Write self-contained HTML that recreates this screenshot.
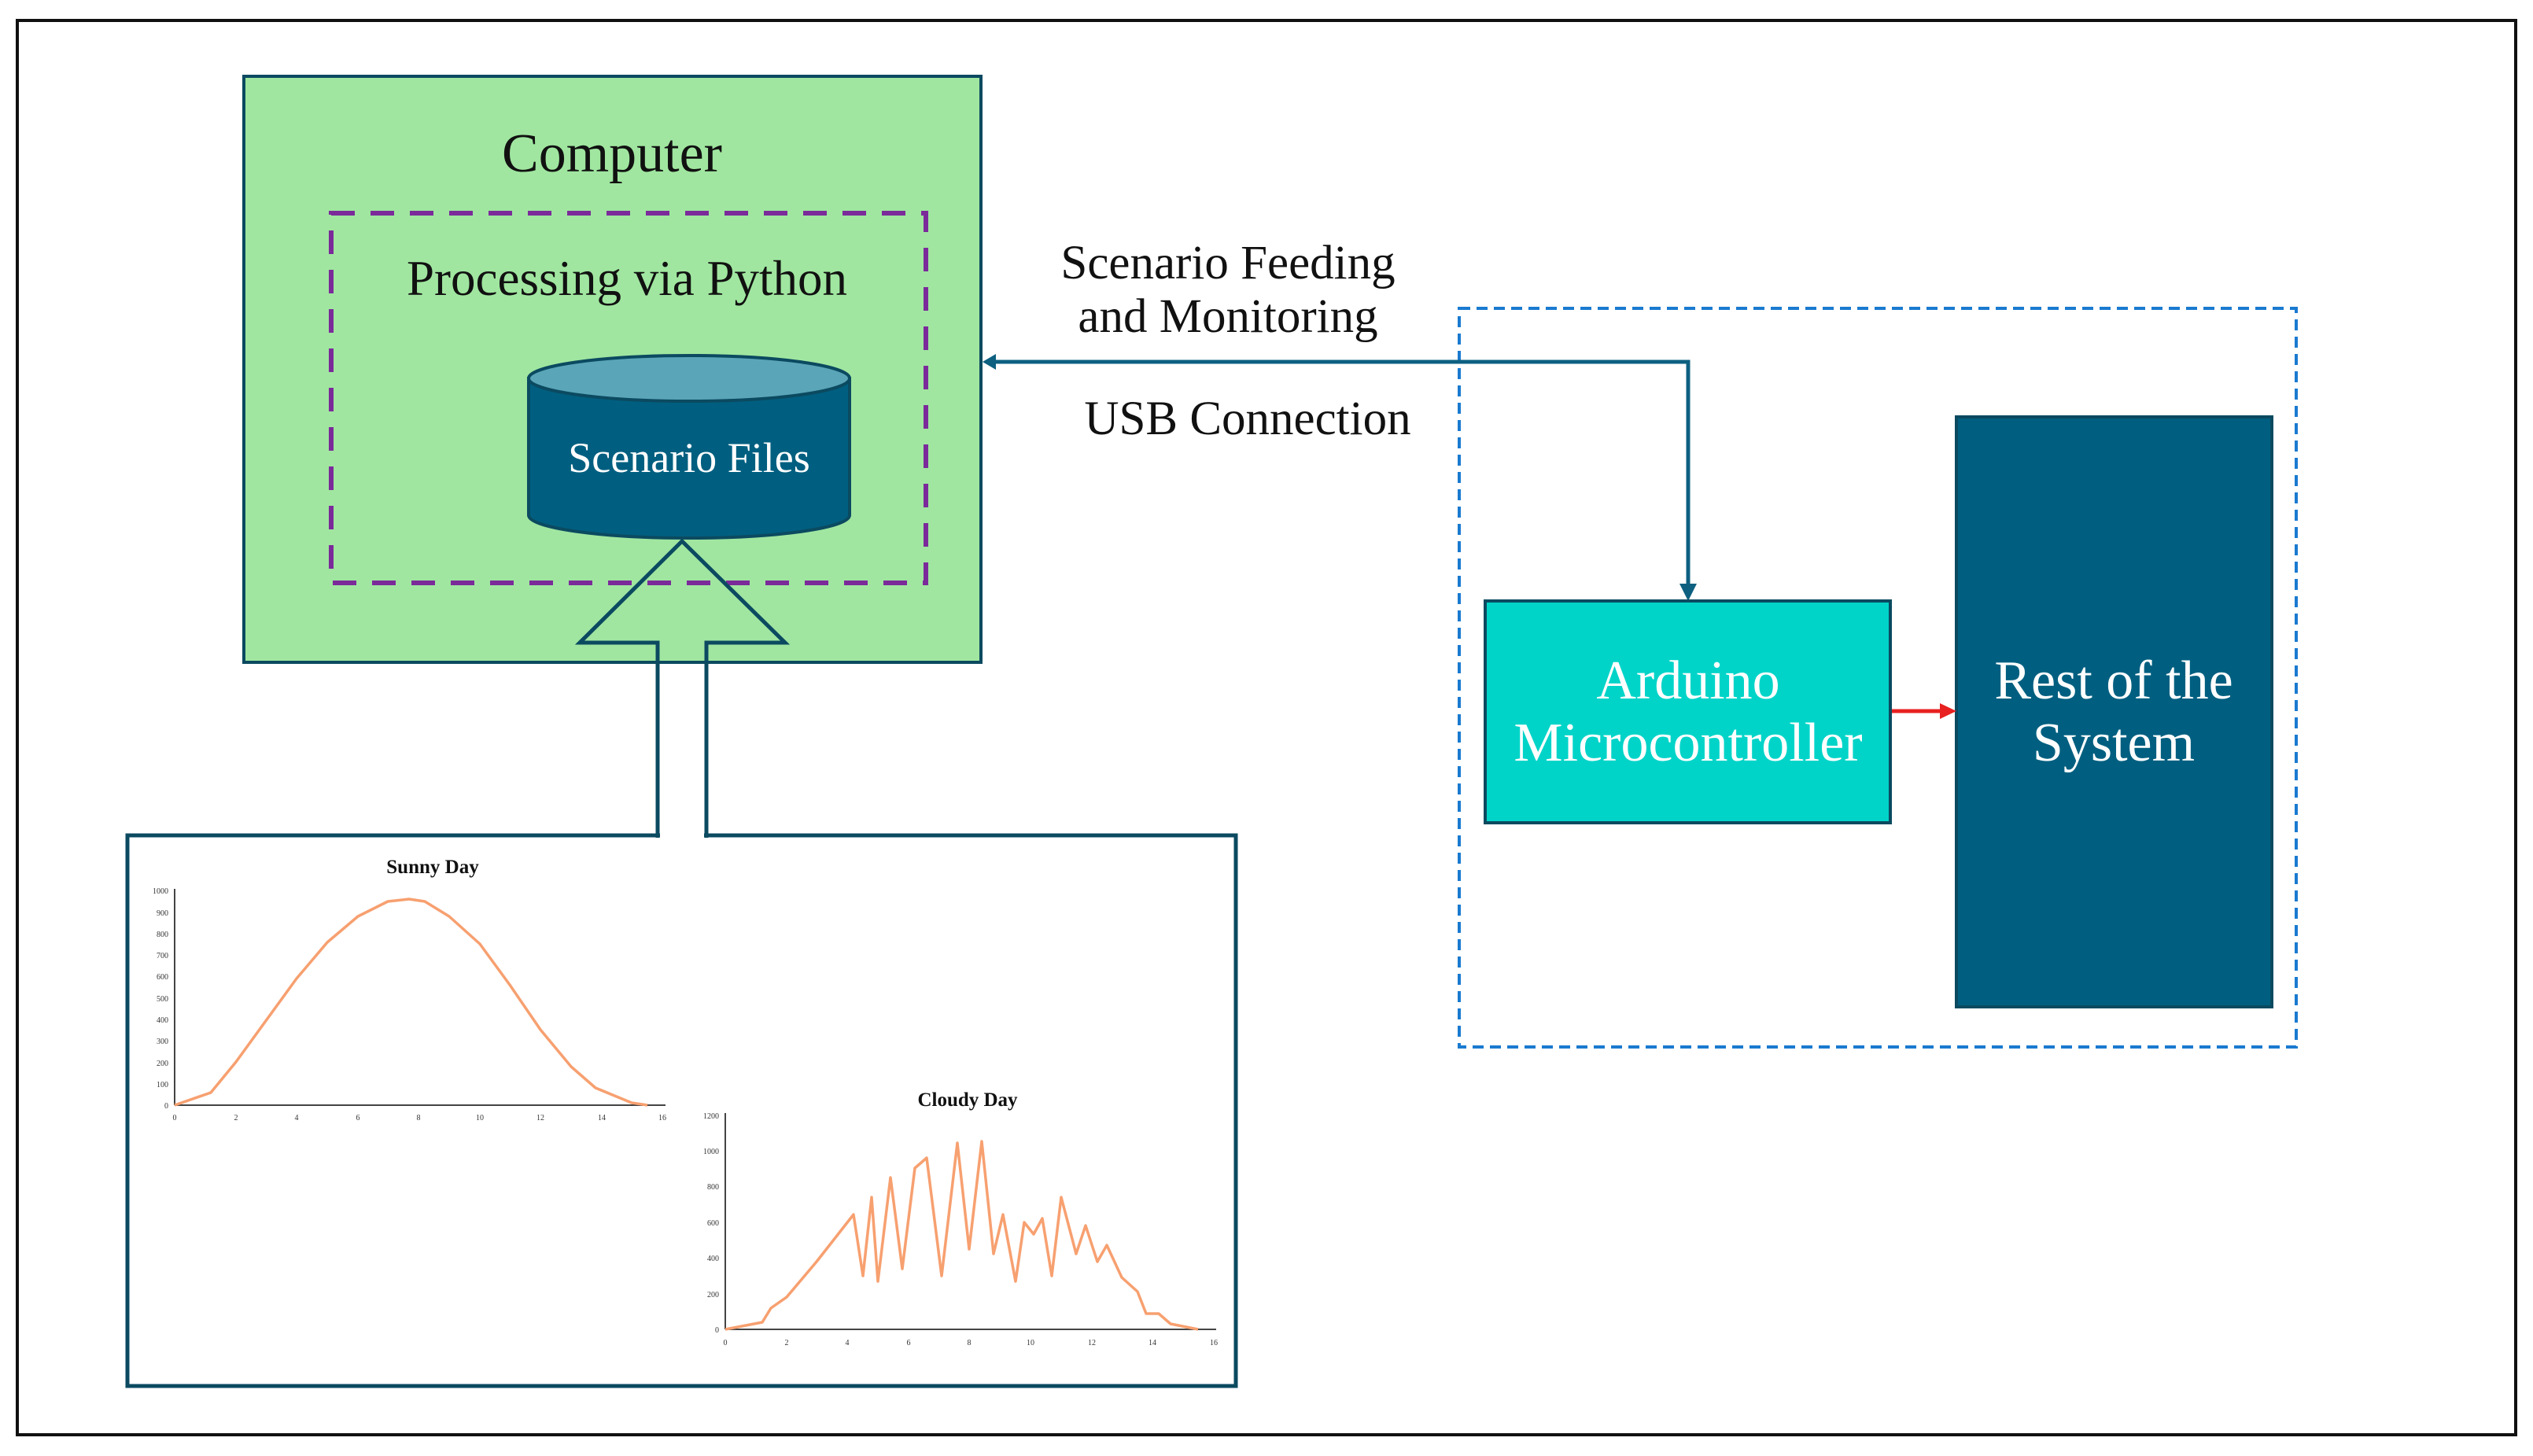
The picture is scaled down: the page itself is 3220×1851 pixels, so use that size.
<!DOCTYPE html>
<html><head><meta charset="utf-8"><style>html,body{margin:0;padding:0;background:#fff}svg{display:block}</style></head>
<body>
<svg width="3220" height="1851" viewBox="0 0 3220 1851" xmlns="http://www.w3.org/2000/svg" font-family="'Liberation Serif', serif">
<rect x="0" y="0" width="3220" height="1851" fill="#fff"/>
<rect x="22" y="26" width="3176" height="1798" fill="none" stroke="#111" stroke-width="4"/>

<!-- Computer -->
<rect x="310" y="97" width="937" height="745" fill="#a0e6a0" stroke="#0b4a60" stroke-width="4"/>
<text x="778" y="218" font-size="70" text-anchor="middle" fill="#111">Computer</text>
<rect x="421" y="271" width="756" height="470" fill="none" stroke="#7b2a9a" stroke-width="6" stroke-dasharray="30,20"/>
<text x="797" y="375" font-size="63" text-anchor="middle" fill="#111">Processing via Python</text>

<!-- Cylinder -->
<path d="M672 481 L672 655 A204 29 0 0 0 1080 655 L1080 481 Z" fill="#005f80" stroke="#0b4a60" stroke-width="4"/>
<ellipse cx="876" cy="481" rx="204" ry="29" fill="#5aa5b8" stroke="#0b4a60" stroke-width="4"/>
<text x="876" y="600" font-size="54" text-anchor="middle" fill="#fff">Scenario Files</text>

<!-- Bottom box -->
<rect x="162" y="1062" width="1409" height="700" fill="#fff" stroke="#0b4a60" stroke-width="5"/>
<!-- Big hollow arrow -->
<path d="M836 1065 L836 817 L737 817 L867 688 L998 817 L898 817 L898 1065" fill="none" stroke="#0b4a60" stroke-width="5"/>
<rect x="839" y="1058" width="56" height="10" fill="#fff"/>

<!-- Sunny chart -->
<text x="550" y="1110" font-size="25" font-weight="bold" text-anchor="middle" fill="#111">Sunny Day</text>
<g stroke="#444" stroke-width="2" fill="none">
<line x1="222" y1="1405" x2="846" y2="1405"/>
<line x1="222" y1="1405" x2="222" y2="1130"/>
</g>
<g font-size="10" fill="#333" text-anchor="end">
<text x="214" y="1409">0</text><text x="214" y="1382">100</text><text x="214" y="1355">200</text><text x="214" y="1327">300</text><text x="214" y="1300">400</text><text x="214" y="1273">500</text><text x="214" y="1245">600</text><text x="214" y="1218">700</text><text x="214" y="1191">800</text><text x="214" y="1164">900</text><text x="214" y="1136">1000</text>
</g>
<g font-size="10" fill="#333" text-anchor="middle">
<text x="222" y="1424">0</text><text x="300" y="1424">2</text><text x="377" y="1424">4</text><text x="455" y="1424">6</text><text x="532" y="1424">8</text><text x="610" y="1424">10</text><text x="687" y="1424">12</text><text x="765" y="1424">14</text><text x="842" y="1424">16</text>
</g>
<path d="M222 1405 L268 1389 L300 1350 L377 1244 L416 1198 L455 1165 L493 1146 L520 1143 L540 1146 L571 1165 L610 1200 L648 1252 L687 1309 L726 1356 L757 1383 L803 1402 L823 1405" fill="none" stroke="#f7a070" stroke-width="3.5" stroke-linejoin="round"/>

<!-- Cloudy chart -->
<text x="1230" y="1406" font-size="25" font-weight="bold" text-anchor="middle" fill="#111">Cloudy Day</text>
<g stroke="#444" stroke-width="2" fill="none">
<line x1="922" y1="1690" x2="1546" y2="1690"/>
<line x1="922" y1="1690" x2="922" y2="1415"/>
</g>
<g font-size="10" fill="#333" text-anchor="end">
<text x="914" y="1694">0</text><text x="914" y="1649">200</text><text x="914" y="1603">400</text><text x="914" y="1558">600</text><text x="914" y="1512">800</text><text x="914" y="1467">1000</text><text x="914" y="1422">1200</text>
</g>
<g font-size="10" fill="#333" text-anchor="middle">
<text x="922" y="1710">0</text><text x="1000" y="1710">2</text><text x="1077" y="1710">4</text><text x="1155" y="1710">6</text><text x="1232" y="1710">8</text><text x="1310" y="1710">10</text><text x="1388" y="1710">12</text><text x="1465" y="1710">14</text><text x="1543" y="1710">16</text>
</g>
<polyline points="922,1690 969,1681 980,1663 1000,1649 1038,1604 1085,1544 1097,1622 1108,1522 1116,1629 1132,1497 1147,1613 1163,1485 1178,1472 1197,1622 1217,1453 1232,1588 1248,1451 1263,1594 1275,1544 1291,1629 1302,1554 1314,1569 1325,1549 1337,1622 1349,1522 1368,1594 1380,1558 1395,1604 1407,1583 1426,1624 1446,1642 1457,1670 1473,1670 1488,1683 1523,1690" fill="none" stroke="#f7a070" stroke-width="3.5" stroke-linejoin="round"/>

<!-- Right dashed box -->
<rect x="1855" y="392" width="1064" height="939" fill="none" stroke="#1a7ad0" stroke-width="4" stroke-dasharray="14,8"/>

<!-- USB connector -->
<polyline points="1262,460 2146,460 2146,744" fill="none" stroke="#0d6080" stroke-width="5"/>
<polygon points="1249,460 1266,450 1266,470" fill="#0d6080"/>
<polygon points="2146,764 2135,742 2157,742" fill="#0d6080"/>
<g font-size="61" text-anchor="middle" fill="#111">
<text x="1561" y="354">Scenario Feeding</text>
<text x="1561" y="422">and Monitoring</text>
<text x="1586" y="552">USB Connection</text>
</g>

<!-- Arduino -->
<rect x="1888" y="764" width="515" height="282" fill="#00d4c8" stroke="#0b4a60" stroke-width="4"/>
<g font-size="70" text-anchor="middle" fill="#fff">
<text x="2146" y="888">Arduino</text>
<text x="2146" y="967">Microcontroller</text>
</g>
<!-- Rest -->
<rect x="2487" y="530" width="401" height="750" fill="#005f80" stroke="#0b4a60" stroke-width="4"/>
<g font-size="70" text-anchor="middle" fill="#fff">
<text x="2687" y="888">Rest of the</text>
<text x="2687" y="967">System</text>
</g>
<!-- red arrow -->
<line x1="2405" y1="904" x2="2470" y2="904" stroke="#e82020" stroke-width="5"/>
<polygon points="2487,904 2466,894 2466,914" fill="#e82020"/>
</svg>
</body></html>
